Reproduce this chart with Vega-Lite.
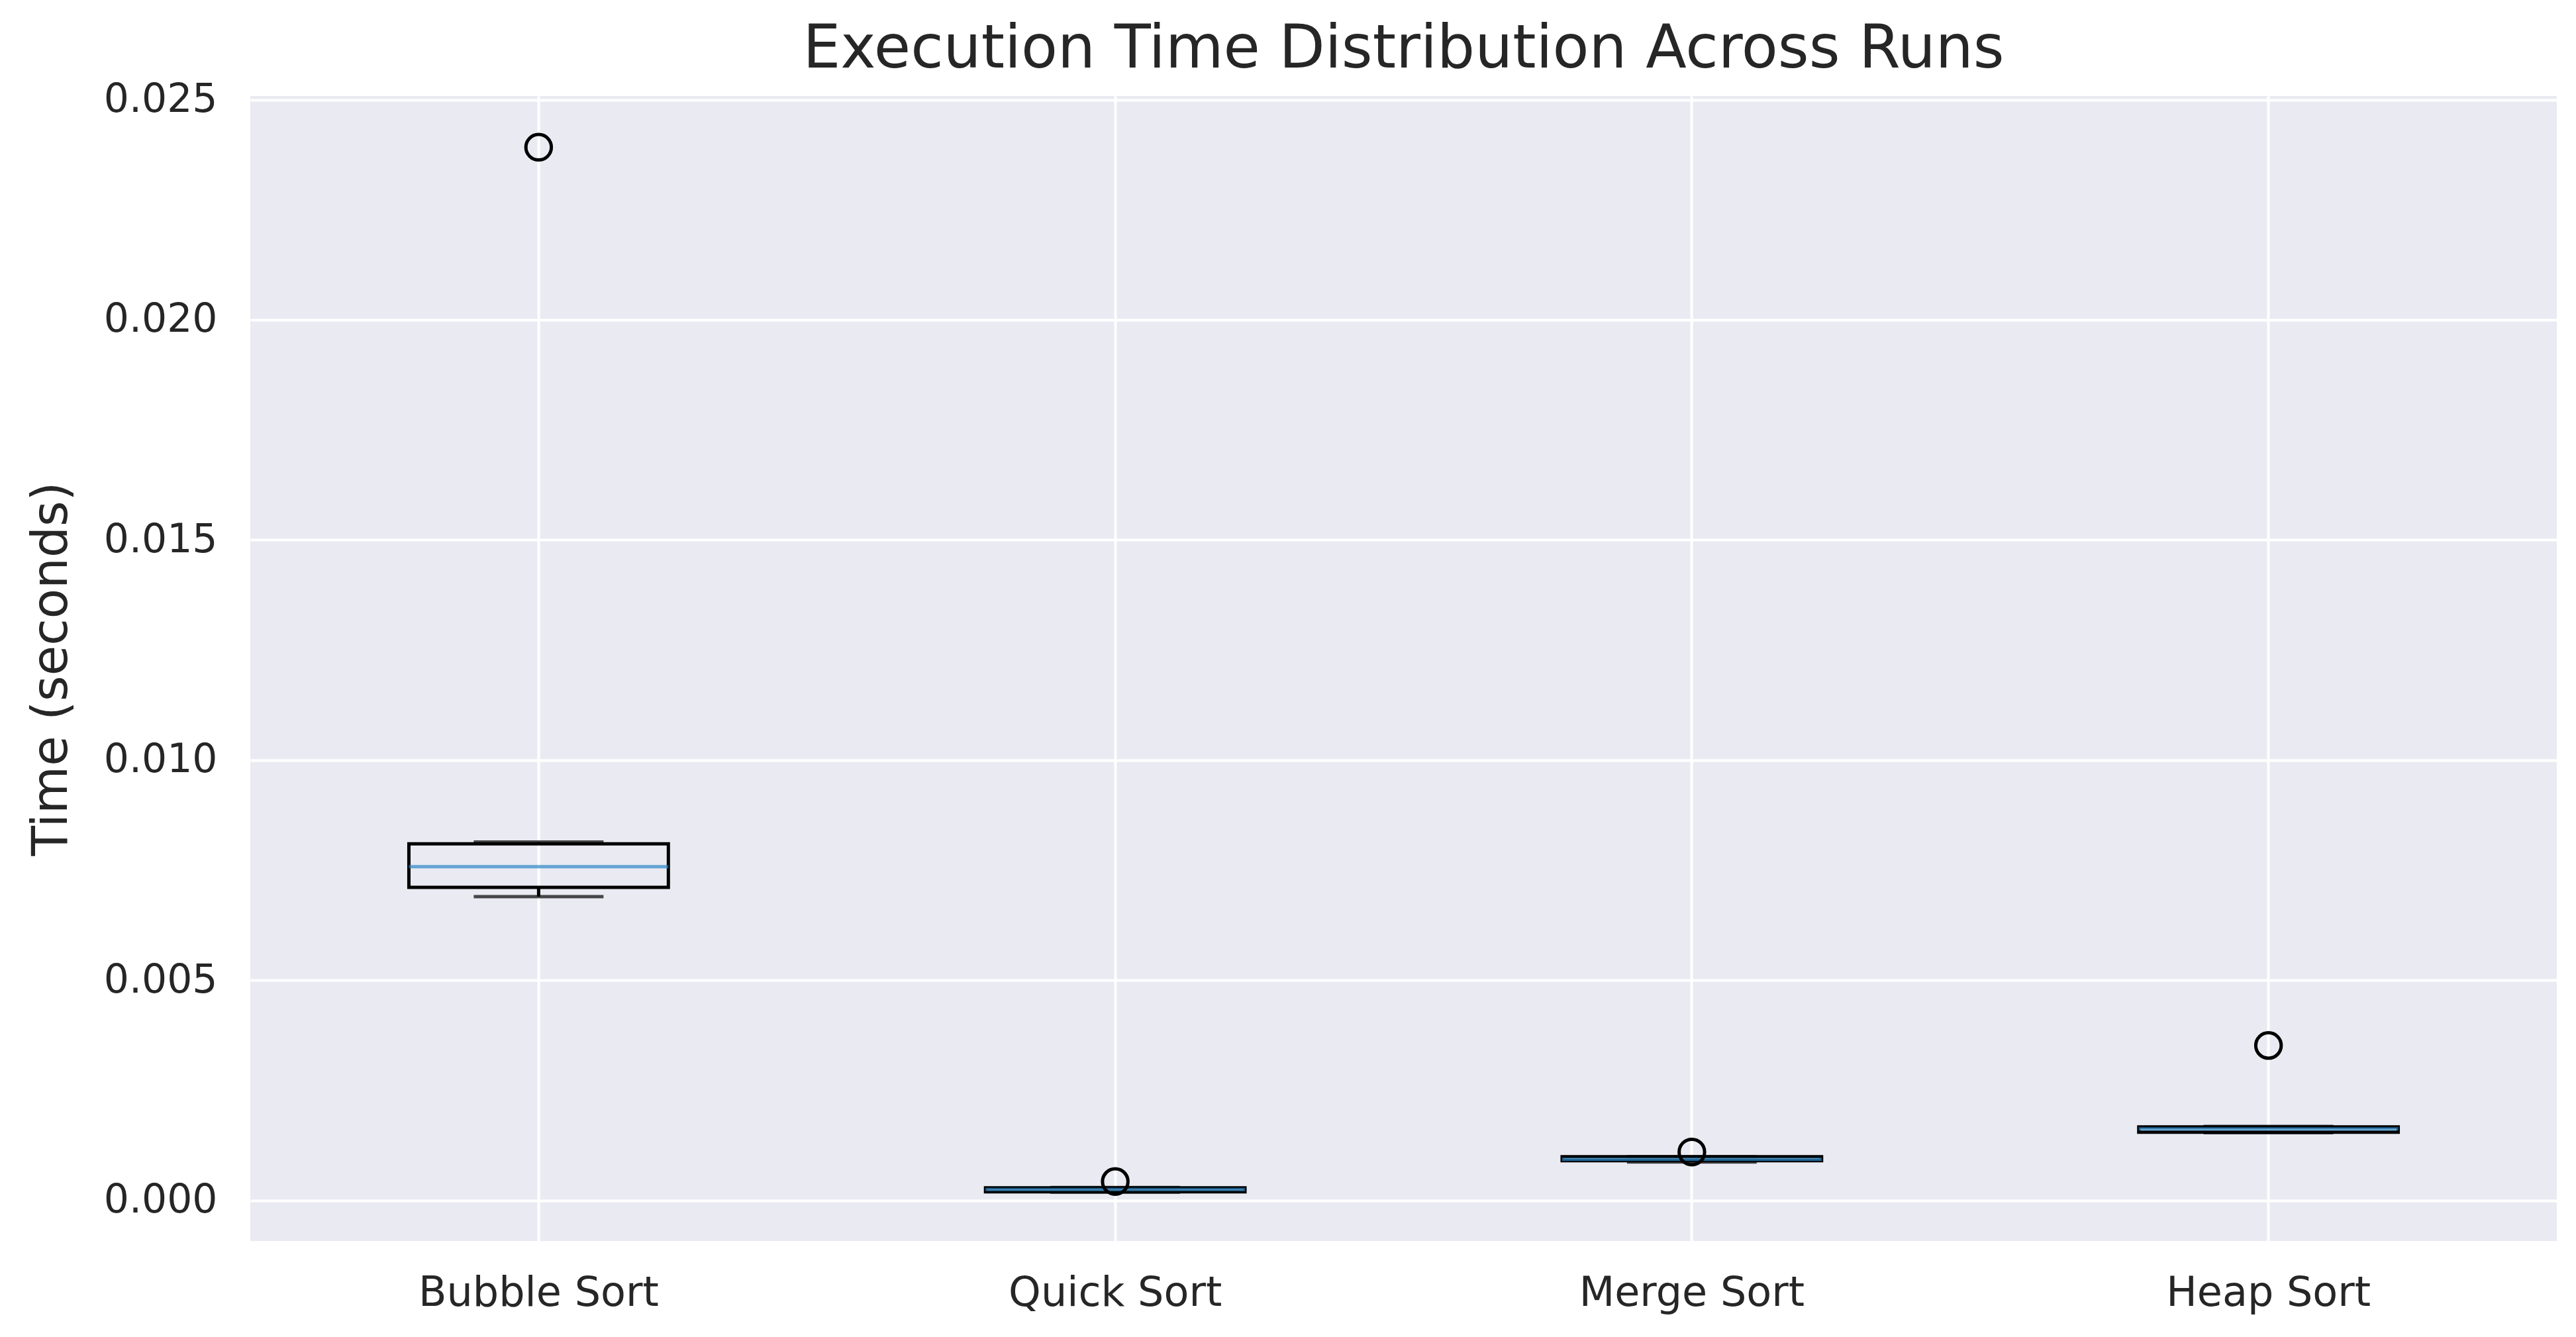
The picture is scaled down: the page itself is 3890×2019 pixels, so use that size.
{
  "$schema": "https://vega.github.io/schema/vega-lite/v6.json",
  "width": 3483,
  "height": 1729,
  "autosize": {"type": "none"},
  "padding": {"left": 378, "top": 145, "right": 29, "bottom": 145},
  "background": "white",
  "title": {
    "text": "Execution Time Distribution Across Runs",
    "font": "DejaVu Sans",
    "fontSize": 90,
    "fontWeight": "normal",
    "color": "#262626",
    "anchor": "middle",
    "offset": 0
  },
  "config": {
    "view": {"fill": "#EAEAF2", "stroke": null},
    "axis": {
      "labelFont": "DejaVu Sans",
      "labelFontSize": 60,
      "labelColor": "#262626",
      "labelLimit": 2000,
      "titleFont": "DejaVu Sans",
      "titleFontSize": 74,
      "titleFontWeight": "normal",
      "titleColor": "#262626",
      "domain": false,
      "ticks": false,
      "tickSize": 0,
      "grid": true,
      "gridColor": "#FFFFFF",
      "gridWidth": 4,
      "gridOpacity": 1
    }
  },
  "datasets": {
    "stats": [
      {"algorithm": "Bubble Sort", "lower": 0.00690, "q1": 0.00711, "median": 0.00758, "q3": 0.00810, "upper": 0.00814},
      {"algorithm": "Quick Sort", "lower": 0.00019, "q1": 0.000195, "median": 0.000248, "q3": 0.000286, "upper": 0.000295},
      {"algorithm": "Merge Sort", "lower": 0.000872, "q1": 0.000902, "median": 0.000932, "q3": 0.000992, "upper": 0.000995},
      {"algorithm": "Heap Sort", "lower": 0.00154, "q1": 0.00155, "median": 0.001624, "q3": 0.00167, "upper": 0.00168}
    ],
    "outliers": [
      {"algorithm": "Bubble Sort", "time": 0.02392},
      {"algorithm": "Quick Sort", "time": 0.00043},
      {"algorithm": "Merge Sort", "time": 0.0011},
      {"algorithm": "Heap Sort", "time": 0.00352}
    ]
  },
  "encoding": {
    "x": {
      "field": "algorithm",
      "type": "nominal",
      "scale": {"type": "band", "domain": ["Bubble Sort", "Quick Sort", "Merge Sort", "Heap Sort"], "paddingInner": 0, "paddingOuter": 0},
      "axis": {"title": null, "labelAngle": 0, "labelPadding": 48, "labelFontSize": 62, "bandPosition": 0.5}
    }
  },
  "layer": [
    {
      "data": {"name": "stats"},
      "mark": {"type": "rule", "color": "black", "strokeWidth": 5},
      "encoding": {
        "y": {
          "field": "lower",
          "type": "quantitative",
          "scale": {"domain": [-0.00092, 0.025083], "nice": false, "zero": false},
          "axis": {"title": "Time (seconds)", "values": [0, 0.005, 0.01, 0.015, 0.02, 0.025], "format": ".3f", "labelPadding": 50, "titlePadding": 62}
        },
        "y2": {"field": "q1"}
      }
    },
    {
      "data": {"name": "stats"},
      "mark": {"type": "rule", "color": "black", "strokeWidth": 5},
      "encoding": {
        "y": {"field": "q3", "type": "quantitative"},
        "y2": {"field": "upper"}
      }
    },
    {
      "data": {"name": "stats"},
      "mark": {"type": "bar", "width": {"band": 0.45}, "fill": null, "fillOpacity": 0, "stroke": "black", "strokeWidth": 5},
      "encoding": {
        "y": {"field": "q1", "type": "quantitative"},
        "y2": {"field": "q3"}
      }
    },
    {
      "data": {"name": "stats"},
      "mark": {"type": "tick", "color": "black", "size": 196, "thickness": 5},
      "encoding": {
        "y": {"field": "lower", "type": "quantitative"}
      }
    },
    {
      "data": {"name": "stats"},
      "mark": {"type": "tick", "color": "black", "size": 196, "thickness": 5},
      "encoding": {
        "y": {"field": "upper", "type": "quantitative"}
      }
    },
    {
      "data": {"name": "stats"},
      "mark": {"type": "tick", "color": "#2a86c4", "size": 392, "thickness": 5},
      "encoding": {
        "y": {"field": "median", "type": "quantitative"}
      }
    },
    {
      "data": {"name": "outliers"},
      "mark": {"type": "point", "shape": "circle", "filled": false, "stroke": "black", "strokeWidth": 5, "size": 1480, "opacity": 1},
      "encoding": {
        "y": {"field": "time", "type": "quantitative"}
      }
    }
  ]
}
